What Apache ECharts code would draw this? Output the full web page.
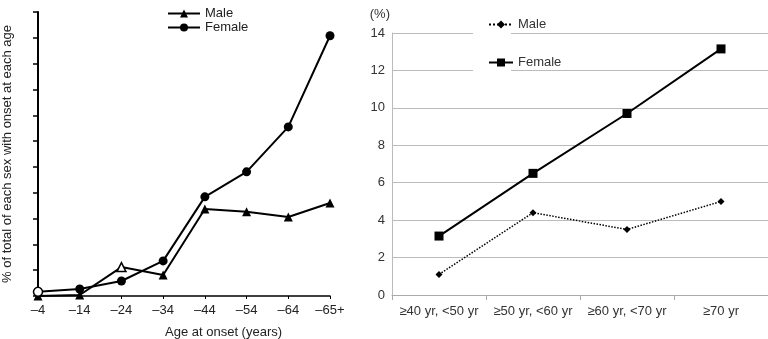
<!DOCTYPE html>
<html><head><meta charset="utf-8">
<script src="https://cdn.jsdelivr.net/npm/echarts@6/dist/echarts.min.js"></script>
<style>html,body{margin:0;padding:0;background:#fff}#c{width:768px;height:339px}</style>
</head><body><div id="c"></div>
<script>
// Left chart data
var ageCategories = ['–4','–14','–24','–34','–44','–54','–64','–65+'];
var leftMale   = [0, 0.04, 1.12, 0.81, 3.37, 3.26, 3.06, 3.60];
var leftFemale = [0.16, 0.27, 0.58, 1.36, 3.84, 4.81, 6.55, 10.08];
// Right chart data
var groupCategories = ['≥40 yr, <50 yr','≥50 yr, <60 yr','≥60 yr, <70 yr','≥70 yr'];
var rightMale   = [1.1, 4.4, 3.5, 5.0];
var rightFemale = [3.15, 6.5, 9.7, 13.15];
var rightTicks = [0, 2, 4, 6, 8, 10, 12, 14];

var font = '"Liberation Sans", Arial, sans-serif';
var chart = echarts.init(document.getElementById('c'), null, {renderer: 'canvas'});

function openPoint(v){ return {value: v, itemStyle: {color: '#fff', borderColor: '#000', borderWidth: 1.5}}; }
var leftFemaleData = leftFemale.map(function(v, i){ return i === 0 ? openPoint(v) : v; });
var leftMaleData = leftMale.map(function(v, i){ return i === 2 ? openPoint(v) : v; });

chart.setOption({
  animation: false,
  textStyle: {fontFamily: font},
  title: {
    text: 'Age at onset (years)', left: 160, top: 321,
    textStyle: {fontSize: 13, fontWeight: 'normal', color: '#222', fontFamily: font}
  },
  graphic: [{type: 'rect', z: 1, shape: {x: 473, y: 25, width: 38, height: 52}, style: {fill: '#fff'}}],
  legend: [
    {data: ['Male', 'Female'], left: 162, top: 2, orient: 'vertical', itemGap: 1,
     itemWidth: 32, itemHeight: 10, textStyle: {fontSize: 13, color: '#222', fontFamily: font}},
    {data: ['Male ', 'Female '], left: 483, top: 13, orient: 'vertical', itemGap: 25,
     itemWidth: 24, itemHeight: 10, textStyle: {fontSize: 13, color: '#333', fontFamily: font}}
  ],
  grid: [
    {left: 38, top: 12, width: 292, height: 284},
    {left: 392, top: 33, width: 378, bottom: 44}
  ],
  xAxis: [
    {type: 'category', gridIndex: 0, data: ageCategories, boundaryGap: false,
     axisLine: {lineStyle: {color: '#000', width: 1.5}},
     axisTick: {show: true, length: 3, lineStyle: {color: '#000'}},
     axisLabel: {fontSize: 13, color: '#222', margin: 8, interval: 0, fontFamily: font}},
    {type: 'category', gridIndex: 1, data: groupCategories, boundaryGap: true,
     axisLine: {lineStyle: {color: '#aaa', width: 1}},
     axisTick: {show: true, length: 5, lineStyle: {color: '#aaa'}},
     axisLabel: {fontSize: 13, color: '#333', margin: 10, interval: 0, fontFamily: font}}
  ],
  yAxis: [
    {type: 'value', gridIndex: 0, min: 0, max: 11, interval: 1,
     name: '% of total of each sex with onset at each age', nameLocation: 'middle', nameGap: 24,
     nameTextStyle: {fontSize: 13, color: '#222', fontFamily: font},
     axisLine: {show: true, lineStyle: {color: '#000', width: 2}},
     axisTick: {show: true, length: 5, lineStyle: {color: '#000', width: 1.5}},
     axisLabel: {show: false}, splitLine: {show: false}},
    {type: 'value', gridIndex: 1, min: rightTicks[0], max: rightTicks[rightTicks.length - 1], interval: 2,
     name: '(%)', nameLocation: 'end', nameGap: 12,
     nameTextStyle: {fontSize: 13, color: '#333', align: 'right', padding: [0, 2, 0, 0], fontFamily: font},
     axisLine: {show: true, lineStyle: {color: '#bbb', width: 1}},
     axisTick: {show: false},
     axisLabel: {fontSize: 13, color: '#333', margin: 7, fontFamily: font},
     splitLine: {show: true, lineStyle: {color: '#bbb', width: 1}}}
  ],
  series: [
    {name: 'Male', type: 'line', xAxisIndex: 0, yAxisIndex: 0, data: leftMaleData,
     symbol: 'triangle', symbolSize: 9, color: '#000',
     lineStyle: {color: '#000', width: 2}, itemStyle: {color: '#000'}},
    {name: 'Female', type: 'line', xAxisIndex: 0, yAxisIndex: 0, data: leftFemaleData,
     symbol: 'circle', symbolSize: 9, color: '#000',
     lineStyle: {color: '#000', width: 2}, itemStyle: {color: '#000'}},
    {name: 'Male ', type: 'line', xAxisIndex: 1, yAxisIndex: 1, data: rightMale,
     symbol: 'diamond', symbolSize: 7, color: '#000',
     lineStyle: {color: '#000', width: 1.5, type: 'dotted'}, itemStyle: {color: '#000'}},
    {name: 'Female ', type: 'line', xAxisIndex: 1, yAxisIndex: 1, data: rightFemale,
     symbol: 'rect', symbolSize: 9, color: '#000',
     lineStyle: {color: '#000', width: 2}, itemStyle: {color: '#000'}}
  ]
});
</script></body></html>
